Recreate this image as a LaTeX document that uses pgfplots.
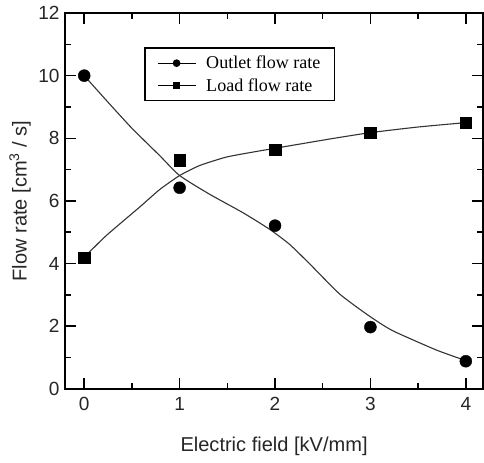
\documentclass[border=0pt]{standalone}
\usepackage{pgfplots}
\pgfplotsset{compat=1.18}
\usepackage{fontspec}
\setmainfont{Liberation Sans}
\newfontfamily\legfont{Liberation Serif}
\begin{document}
\begin{tikzpicture}
\begin{axis}[name=ax,
  width=417pt, height=375pt, scale only axis,
  xmin=-0.2, xmax=4.18, ymin=0, ymax=12,
  xtick={0,1,2,3,4}, ytick={0,2,4,6,8,10,12},
  minor x tick num=1, minor y tick num=1,
  tick align=inside, major tick length=11pt, minor tick length=6pt,
  every tick/.style={line width=1.5pt, black},
  axis line style={line width=1.8pt},
  tick label style={font=\fontsize{19}{22}\selectfont, black!85},
  /pgf/number format/assume math mode=true,
  xticklabel style={yshift=-5pt},
  yticklabel style={xshift=-2pt},
  xlabel={Electric field [kV/mm]},
  ylabel={Flow rate [cm\textsuperscript{3} / s]},
  label style={font=\fontsize{20}{23}\selectfont, black!85},
  xlabel style={at={(axis description cs:0.5,-0.152)}, anchor=center},
  ylabel style={at={(axis description cs:-0.108,0.5)}, anchor=center},
  legend style={at={(axis cs:0.63,10.9)}, anchor=north west, draw=black,
    line width=1.2pt, font=\legfont\fontsize{18}{21}\selectfont,
    inner xsep=12pt, inner ysep=6pt, row sep=4pt},
  legend cell align=left,
  legend image code/.code={
    \draw[line width=1.2pt] (0pt,0pt) -- (38pt,0pt);
    \draw plot coordinates {(19pt,0pt)};
  },
]
\addlegendimage{only marks, mark=*, mark size=3.2pt, black}
\addlegendentry{\hspace{8pt}Outlet flow rate}
\addlegendimage{only marks, mark=square*, mark size=2.8pt, black}
\addlegendentry{\hspace{8pt}Load flow rate}

% fitted curves
\addplot[forget plot, line width=1.1pt, black!80, smooth, tension=0.35] coordinates {
  (0,10) (0.25,9.15) (0.5,8.32) (0.79,7.45) (1,6.81) (1.31,6.22) (1.66,5.63)
  (1.94,5.10) (2.15,4.62) (2.36,4.0) (2.68,3.02) (2.99,2.32) (3.23,1.86)
  (3.69,1.24) (4,0.9)};
\addplot[forget plot, line width=1.1pt, black!80, smooth, tension=0.35] coordinates {
  (0,4.2) (0.23,4.89) (0.58,5.8) (0.79,6.36) (1,6.81) (1.21,7.13) (1.49,7.40)
  (1.77,7.56) (1.98,7.67) (2.6,7.99) (3,8.18) (3.5,8.36) (4,8.5)};

% measured points
\addplot[forget plot, only marks, mark=*, mark size=6pt, black] coordinates {
  (0,10) (1,6.42) (2,5.21) (3,1.97) (4,0.88)};
\addplot[forget plot, only marks, mark=square*, mark size=5.8pt, black] coordinates {
  (0,4.19) (1,7.29) (2,7.63) (3,8.18) (4,8.5)};
\end{axis}
\path ([shift={(-65pt,-74pt)}]ax.south west) rectangle ([shift={(1pt,13pt)}]ax.north east);
\end{tikzpicture}
\end{document}
